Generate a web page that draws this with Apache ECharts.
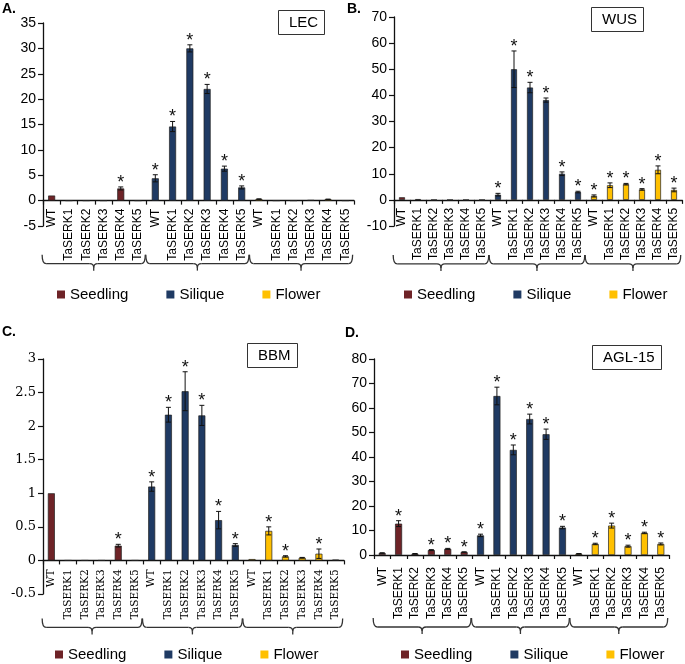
<!DOCTYPE html>
<html><head><meta charset="utf-8">
<script src="https://cdn.jsdelivr.net/npm/echarts@6/dist/echarts.min.js"></script>
<style>html,body{margin:0;padding:0;background:#fff}#c{width:685px;height:664px}</style>
</head><body><div id="c"></div>
<script>
// ---------- data ----------
const categories = ['WT','TaSERK1','TaSERK2','TaSERK3','TaSERK4','TaSERK5',
                    'WT','TaSERK1','TaSERK2','TaSERK3','TaSERK4','TaSERK5',
                    'WT','TaSERK1','TaSERK2','TaSERK3','TaSERK4','TaSERK5'];
const groups = ['Seedling','Silique','Flower'];
const groupOf = [0,0,0,0,0,0,1,1,1,1,1,1,2,2,2,2,2,2];

const lecValues = [1.0,0,0,0,2.4,0, 4.4,14.6,30.0,22.0,6.3,2.6, 0.3,0,0,0.1,0.25,0];
const lecErrors = [0,0,0,0,0.3,0, 0.7,1.0,0.7,0.9,0.5,0.3, 0.05,0,0,0,0.05,0];
const lecStars  = [0,0,0,0,1,0, 1,1,1,1,1,1, 0,0,0,0,0,0];

const wusValues = [1.0,0.3,0,0,0,0, 2.0,50,43,38.2,10,3, 1.5,5.6,6,4,11.5,3.8];
const wusErrors = [0,0,0,0,0,0, 0.5,7,2,0.8,0.7,0.3, 0.4,0.9,0.3,0.3,1.5,0.7];
const wusStars  = [0,0,0,0,0,0, 1,1,1,1,1,1, 1,1,1,1,1,1];

const bbmValues = [1.0,0,0,0,0.22,0, 1.1,2.17,2.52,2.16,0.6,0.23, 0.02,0.44,0.06,0.04,0.1,0.01];
const bbmErrors = [0,0,0,0,0.02,0, 0.07,0.11,0.29,0.15,0.13,0.02, 0,0.06,0.01,0.005,0.07,0];
const bbmStars  = [0,0,0,0,1,0, 1,1,1,1,1,1, 0,1,1,0,1,0];

const aglValues = [0.8,12.8,0.5,2.0,2.5,1.2, 8.0,64.9,42.9,55.5,49.3,11.2, 0.5,4.5,12,3.6,9,4.5];
const aglErrors = [0.1,1.2,0.1,0.2,0.2,0.1, 0.5,3.6,2,2,2.1,0.5, 0.1,0.3,1,0.4,0.3,0.4];
const aglStars  = [0,1,0,1,1,1, 1,1,1,1,1,1, 0,1,1,1,1,1];

const groupColors = ['#6E2327','#1F3A63','#FFC000'];

// ---------- layout ----------
const panels = [
  {name:'LEC', letter:'A.', values:lecValues, errors:lecErrors, stars:lecStars, yMin:-5, yMax:35, yInt:5,
   grid:{left:43,top:23,width:311,height:203}, barWidth:7, serif:false, labelMargin:8, bracketY:63,
   titlePos:{left:278,top:10}, letterPos:{left:2,top:2}, legendPos:{left:52,top:282}},
  {name:'WUS', letter:'B.', values:wusValues, errors:wusErrors, stars:wusStars, yMin:-10, yMax:70, yInt:10,
   grid:{left:394,top:17,width:288,height:209}, barWidth:6, serif:false, labelMargin:8, bracketY:64,
   titlePos:{left:591,top:7}, letterPos:{left:347,top:2}, legendPos:{left:399,top:282}},
  {name:'BBM', letter:'C.', values:bbmValues, errors:bbmErrors, stars:bbmStars, yMin:-0.5, yMax:3, yInt:0.5,
   grid:{left:43,top:359,width:301,height:235}, barWidth:7, serif:true, labelMargin:9, bracketY:67,
   titlePos:{left:247,top:343}, letterPos:{left:2,top:325}, legendPos:{left:50,top:642}},
  {name:'AGL-15', letter:'D.', values:aglValues, errors:aglErrors, stars:aglStars, yMin:0, yMax:80, yInt:10,
   grid:{left:374,top:359,width:295,height:196}, barWidth:7, serif:false, labelMargin:12, bracketY:72,
   titlePos:{left:592,top:345}, letterPos:{left:345,top:326}, legendPos:{left:396,top:642}}
];

const SANS = 'Liberation Sans, Arial, sans-serif';
const SERIF = 'DejaVu Serif, serif';

const chart = echarts.init(document.getElementById('c'), null, {renderer:'canvas'});

const option = {
  animation:false,
  backgroundColor:'#fff',
  title:[], grid:[], xAxis:[], yAxis:[], legend:[], series:[]
};

panels.forEach((p, i) => {
  const font = p.serif ? SERIF : SANS;
  // shift the category axis up from the grid bottom to the zero line
  const zeroOffset = -p.grid.height * (0 - p.yMin) / (p.yMax - p.yMin);
  option.title.push({text:p.name, left:p.titlePos.left, top:p.titlePos.top, borderColor:'#333', borderWidth:1,
    padding:[5,7,5,11], textStyle:{fontSize:15, fontWeight:'normal', fontFamily:SANS, color:'#000'}});
  option.title.push({text:p.letter, left:p.letterPos.left, top:p.letterPos.top, padding:0,
    textStyle:{fontSize:14, fontWeight:'bold', fontFamily:SANS, color:'#000'}});
  option.grid.push(Object.assign({containLabel:false, outerBoundsMode:'none'}, p.grid));
  option.xAxis.push({type:'category', gridIndex:i, data:categories, position:'bottom', offset:zeroOffset,
    axisLine:{onZero:false, lineStyle:{color:'#111', width:1.3}},
    axisTick:{show:true, interval:0, length:4, lineStyle:{color:'#111', width:1.2}},
    axisLabel:{interval:0, rotate:90, margin:p.labelMargin, color:'#000',
      fontSize:p.serif?10.5:12, fontFamily:font},
    splitLine:{show:false}});
  option.yAxis.push({type:'value', gridIndex:i, min:p.yMin, max:p.yMax, interval:p.yInt,
    axisLine:{show:true, onZero:false, lineStyle:{color:'#111', width:1.3}},
    axisTick:{show:true, length:5, lineStyle:{color:'#111', width:1.2}},
    axisLabel:{color:'#000', fontSize:p.serif?13:14, fontFamily:font, margin:7},
    splitLine:{show:false}});
  option.legend.push({data:groups, left:p.legendPos.left, top:p.legendPos.top, icon:'rect',
    itemWidth:8, itemHeight:8, itemGap:38, selectedMode:false,
    itemStyle:{borderWidth:0},
    textStyle:{fontSize:15, fontFamily:SANS, color:'#000'}});
  groups.forEach((g, gi) => {
    option.series.push({type:'bar', name:g, xAxisIndex:i, yAxisIndex:i,
      barWidth:p.barWidth, barGap:'-100%',
      itemStyle:{color:groupColors[gi], borderColor:'#222', borderWidth:0.7},
      data:p.values.map((v,k) => groupOf[k]===gi ? v : '-')});
  });
  option.series.push({type:'custom', xAxisIndex:i, yAxisIndex:i, clip:false, z:5,
    encode:{x:0, y:1},
    data:p.values.map((v,k) => [k, v, p.errors[k], p.stars[k]]),
    renderItem:(params, api) => {
      const x = api.value(0), v = api.value(1), e = api.value(2), s = api.value(3);
      const top = api.coord([x, v + e]);
      const bot = api.coord([x, v - e]);
      const children = [];
      if (e > 0) {
        const cw = 2.5;
        const ls = {stroke:'#111', lineWidth:1};
        children.push({type:'line', shape:{x1:top[0], y1:top[1], x2:bot[0], y2:bot[1]}, style:ls});
        children.push({type:'line', shape:{x1:top[0]-cw, y1:top[1], x2:top[0]+cw, y2:top[1]}, style:ls});
        children.push({type:'line', shape:{x1:bot[0]-cw, y1:bot[1], x2:bot[0]+cw, y2:bot[1]}, style:ls});
      }
      if (s) {
        children.push({type:'text', x:top[0], y:top[1]+5,
          style:{text:'*', fontSize:18, fontFamily:SANS, fill:'#111', align:'center', verticalAlign:'bottom'}});
      }
      return {type:'group', children};
    }});
});

chart.setOption(option);

// group brackets under the category labels
const graphics = [];
panels.forEach((p, i) => {
  const axisY = chart.convertToPixel({yAxisIndex:i}, Math.max(0, p.yMin));
  const x0c = chart.convertToPixel({xAxisIndex:i}, 0);
  const x1c = chart.convertToPixel({xAxisIndex:i}, 1);
  const w = x1c - x0c;
  const yH = axisY + p.bracketY;
  const yTop = yH - 9, yTip = yH + 7, r = 4;
  const ls = {stroke:'#333', lineWidth:1.3, fill:null};
  for (let g = 0; g < 3; g++) {
    const xa = chart.convertToPixel({xAxisIndex:i}, g*6) - 0.55*w;
    const xb = chart.convertToPixel({xAxisIndex:i}, g*6+5) + 0.42*w;
    const xm = (xa + xb) / 2;
    graphics.push({type:'bezierCurve', shape:{x1:xa, y1:yTop, cpx1:xa, cpy1:yH, x2:xa+r, y2:yH}, style:ls});
    graphics.push({type:'line', shape:{x1:xa+r, y1:yH, x2:xm-r, y2:yH}, style:ls});
    graphics.push({type:'bezierCurve', shape:{x1:xm-r, y1:yH, cpx1:xm, cpy1:yH, x2:xm, y2:yH+r}, style:ls});
    graphics.push({type:'bezierCurve', shape:{x1:xm+r, y1:yH, cpx1:xm, cpy1:yH, x2:xm, y2:yH+r}, style:ls});
    graphics.push({type:'line', shape:{x1:xm, y1:yH+r, x2:xm, y2:yTip}, style:ls});
    graphics.push({type:'line', shape:{x1:xm+r, y1:yH, x2:xb-r, y2:yH}, style:ls});
    graphics.push({type:'bezierCurve', shape:{x1:xb, y1:yTop, cpx1:xb, cpy1:yH, x2:xb-r, y2:yH}, style:ls});
  }
});
chart.setOption({graphic:graphics});
</script></body></html>
